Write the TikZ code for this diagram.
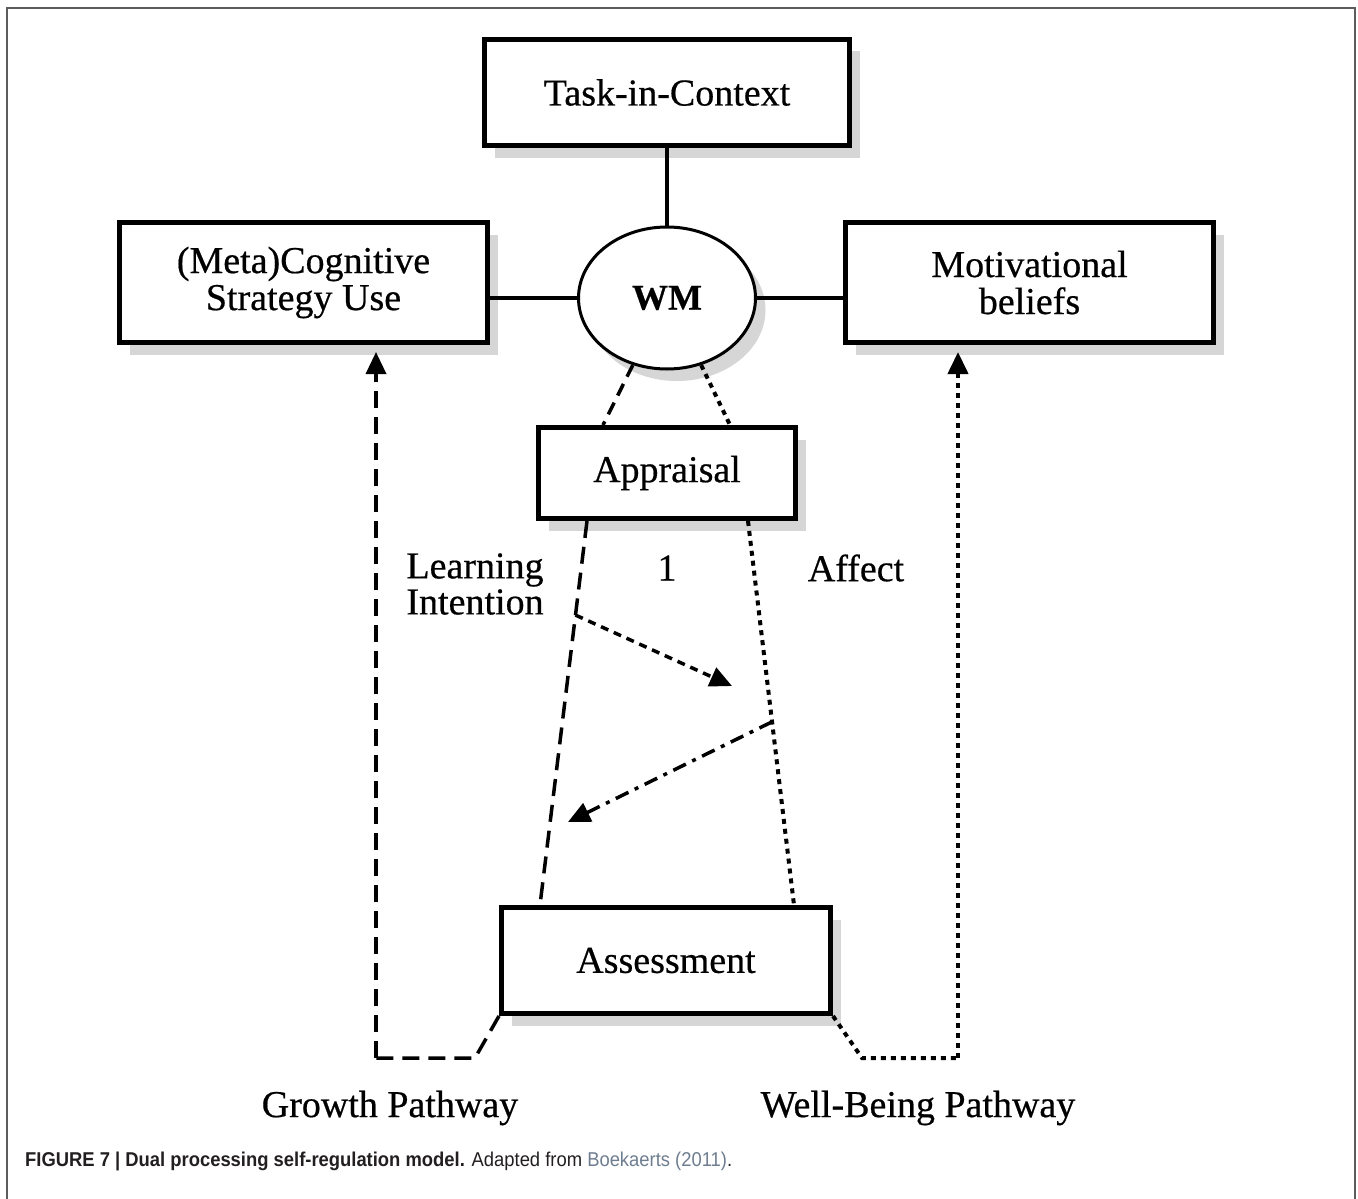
\documentclass[tikz,border=0pt]{standalone}
\usepackage{fontspec}
\setmainfont[FakeBold=0.5]{Liberation Serif}
\newfontfamily\capfont[FakeStretch=0.92]{Liberation Sans}
\usetikzlibrary{arrows.meta,shapes.geometric,shadows}
\definecolor{framegray}{HTML}{5C5C5C}
\definecolor{shadowgray}{HTML}{D6D6D6}
\definecolor{citeblue}{HTML}{6E7D90}
\definecolor{captext}{HTML}{231F20}
\begin{document}
\begin{tikzpicture}[x=1pt,y=-1pt,
  boxshadow/.style={drop shadow={shadow xshift=10pt,shadow yshift=-12pt,fill=shadowgray,opacity=1}},
  box/.style={draw=black,line width=5pt,fill=white,inner sep=0pt,align=center,
    font=\fontsize{38}{37}\selectfont,boxshadow},
  link/.style={line width=4pt,draw=black},
  label/.style={font=\fontsize{38}{36}\selectfont,align=center,inner sep=0pt},
  tip/.style={-{Triangle[length=22pt,width=20pt]}},
  longdash/.style={line width=3.5pt,dash pattern=on 17pt off 9pt},
  middash/.style={line width=3.5pt,dash pattern=on 13pt off 8pt},
  dotline/.style={line width=4pt,dash pattern=on 5pt off 5pt},
  shortdash/.style={line width=3.5pt,dash pattern=on 8pt off 6pt},
  dashdot/.style={line width=3.5pt,dash pattern=on 14pt off 7pt on 4pt off 7pt}]
\useasboundingbox (0,0) rectangle (1358,1199);
\fill[white] (0,0) rectangle (1358,1199);
% outer figure frame (open at the bottom edge of the page)
\draw[framegray,line width=2pt] (7,1230) -- (7,8) -- (1355,8) -- (1355,1230);

% boxes
\node[box,minimum width=365pt,minimum height=106pt] (task) at (667,92.5) {Task-in-Context};
\node[box,minimum width=368pt,minimum height=120pt] (cog) at (303.5,282.5) {(Meta)Cognitive\\Strategy Use};
\node[box,minimum width=368pt,minimum height=120pt] (mot) at (1029.5,282.5) {Motivational\\beliefs};
\node[ellipse,draw=black,line width=3pt,fill=white,minimum width=177pt,minimum height=142pt,inner sep=0pt,
  font=\fontsize{36}{36}\selectfont\bfseries,boxshadow] (wm) at (667,298) {WM};
\node[box,minimum width=257pt,minimum height=91pt] (appr) at (667,473) {Appraisal};
\node[box,minimum width=329pt,minimum height=106pt] (asmt) at (666,960.5) {Assessment};

% solid links around working memory
\draw[link] (task.south) -- (wm.north);
\draw[link] (cog.east |- wm.west) -- (wm.west);
\draw[link] (wm.east) -- (mot.west |- wm.east);

% working memory to appraisal
\draw[middash] (wm.243) -- ([xshift=-64pt]appr.north);
\draw[dotline] (wm.297) -- ([xshift=63pt]appr.north);

% learning-intention and affect routes
\draw[longdash] ([xshift=-80pt]appr.south) -- coordinate[pos=0.245] (li) ([xshift=-126pt]asmt.north);
\draw[dotline] ([xshift=81pt]appr.south) -- coordinate[pos=0.523] (af) ([xshift=128pt]asmt.north);
\coordinate (t1) at (732,686);
\coordinate (t2) at (568,822);
\draw[shortdash,tip] (li) -- (t1);
\draw[dashdot,tip] (af) -- (t2);

% labels between the routes
\node[label] (lilab) at (475,584) {Learning\\Intention};
\node[label] (one) at (667,568) {1};
\node[label] (aflab) at (856,568) {Affect};

% growth pathway back to strategy use
\coordinate (g1) at (475,1058);
\coordinate (g2) at (376,1058);
\coordinate (gtip) at (376,352);
\draw[longdash] (asmt.south west) -- (g1) -- (g2);
\draw[longdash,tip] (g2) -- (gtip);

% well-being pathway back to motivational beliefs
\coordinate (w1) at (862,1058);
\coordinate (w2) at (958,1058);
\coordinate (wtip) at (958,352);
\draw[dotline] (asmt.south east) -- (w1) -- (w2);
\draw[dotline,tip] (w2) -- (wtip);

\node[label] (grow) at (390,1108) {Growth Pathway};
\node[label] (well) at (918,1108) {Well-Being Pathway};

% caption
\node[anchor=base west,inner sep=0pt,text=captext,font=\capfont\fontsize{20}{20}\selectfont] (cap) at (25,1166)
  {\textbf{FIGURE 7 | Dual processing self-regulation model.} Adapted from \textcolor{citeblue}{Boekaerts (2011)}.};
\end{tikzpicture}
\end{document}
